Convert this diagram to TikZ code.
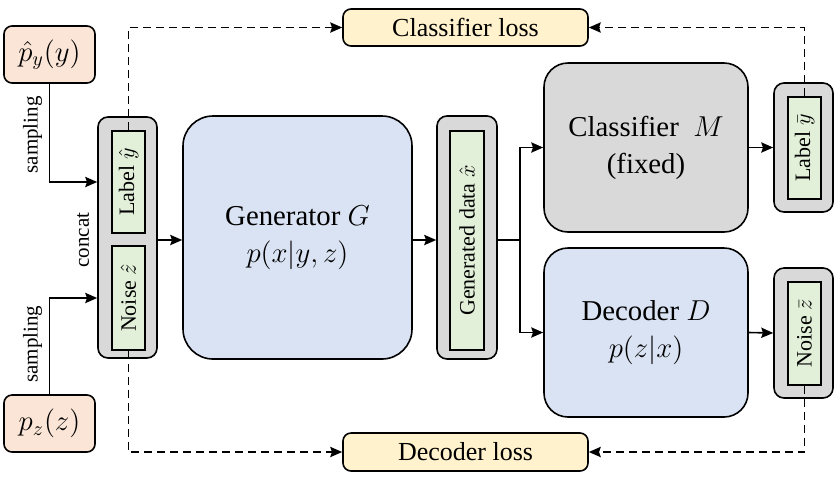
\documentclass[tikz,border=0pt]{standalone}
\usepackage{fontspec}
\setmainfont{Liberation Serif}
\usepackage{graphicx}
\usepackage{xcolor}
\usetikzlibrary{
    arrows.meta,
    positioning,
    calc
}
\definecolor{prior}{HTML}{FBE5D6}
\definecolor{model}{HTML}{DAE3F3}
\definecolor{frozen}{HTML}{D9D9D9}
\definecolor{vector}{HTML}{E2F0D9}
\definecolor{loss}{HTML}{FFF2CC}
\tikzset{
    % Distribution box style
    prior box/.style={
        rectangle,
        rounded corners=4pt,
        minimum width=45.5pt,
        minimum height=28.5pt,
        align=center,
        font=\fontsize{14}{17}\selectfont,
        draw=black,
        fill=prior,
        line width=0.8pt
    },
    % Network block style
    network/.style={
        rectangle,
        rounded corners=12pt,
        minimum width=102pt,
        minimum height=84.5pt,
        align=center,
        font=\fontsize{14.4}{18.5}\selectfont,
        draw=black,
        fill=#1,
        line width=0.8pt
    },
    % Gray holder of vectors
    holder/.style={
        rectangle,
        rounded corners=5pt,
        minimum width=29.5pt,
        inner sep=0pt,
        draw=black,
        fill=frozen,
        line width=0.8pt
    },
    % Vector style
    vec/.style={
        rectangle,
        minimum width=16.5pt,
        inner sep=0pt,
        font=\fontsize{11}{13}\selectfont,
        draw=black,
        fill=vector,
        line width=0.8pt
    },
    % Loss style
    loss box/.style={
        rectangle,
        rounded corners=4pt,
        minimum width=122.5pt,
        minimum height=18.5pt,
        inner sep=0pt,
        font=\fontsize{13}{15}\selectfont,
        draw=black,
        fill=loss,
        line width=0.8pt
    },
    % Arrow styles
    flow/.style={
        -{Stealth[length=2.1mm, width=1.8mm, inset=0.3mm]},
        line width=0.8pt,
        color=black
    },
    lossflow/.style={
        -{Stealth[length=2.1mm, width=1.8mm, inset=0.3mm]},
        line width=0.8pt,
        dash pattern=on 4pt off 2.5pt,
        color=black
    },
    % Label style
    label text/.style={
        font=\fontsize{10.5}{12}\selectfont,
        rotate=90
    }
}

\begin{document}
\begin{tikzpicture}[x=0.5pt, y=-0.5pt]
        \useasboundingbox (0,0) rectangle (838,488);
        % Priors
        \node[prior box] (py) at (49.5,54.5) {$\hat{p}_y(y)$};
        \node[prior box] (pz) at (49.5,423.5) {$p_z(z)$};

        % Concatenated input
        \node[holder, minimum height=120.5pt] (cin) at (127.5,237.5) {};
        \node[vec, minimum height=51pt] (laby) at (128.5,182) {\rotatebox{90}{Label $\hat{y}$}};
        \node[vec, minimum height=52pt] (noisez) at (128.5,298) {\rotatebox{90}{Noise $\hat{z}$}};

        % Generator and its output
        \node[network=model, minimum width=114.5pt, minimum height=121.5pt, rounded corners=15pt] (gen) at (297.5,237.5) {Generator $G$\\$p(x|y,z)$};
        \node[holder, minimum width=30pt, minimum height=121.5pt] (gout) at (467,237.5) {};
        \node[vec, minimum width=17pt, minimum height=109.5pt] (xhat) at (467,240.5) {\rotatebox{90}{Generated\ data\ $\hat{x}$}};

        % Classifier and decoder
        \node[network=frozen] (cls) at (646,147.5) {Classifier\ \ $M$\\(fixed)};
        \node[network=model] (dec) at (646,332.5) {Decoder $D$\\$p(z|x)$};

        % Outputs
        \node[holder, minimum height=64.5pt] (yout) at (803.5,147.5) {};
        \node[vec, minimum height=51pt] (ybar) at (804.5,148) {\rotatebox{90}{Label $\bar{y}$}};
        \node[holder, minimum height=65pt] (zout) at (803.5,333) {};
        \node[vec, minimum height=51.5pt] (zbar) at (804.5,333.5) {\rotatebox{90}{Noise $\bar{z}$}};

        % Losses
        \node[loss box] (closs) at (465.5,27.5) {Classifier loss};
        \node[loss box, minimum height=19pt] (dloss) at (465.5,452) {Decoder loss};

        % Sampling
        \draw[flow] (py.south) |- node[label text, pos=0.26, above] {sampling} (cin.west |- laby);
        \draw[flow] (pz.north) |- node[label text, pos=0.26, above] {sampling} (cin.west |- noisez);
        \node[label text] (concat) at (83,240) {concat};

        % Main flow
        \draw[flow] (cin.east |- 0,240) -- (gen.west |- 0,240);
        \draw[flow] (gen.east |- 0,240) -- (gout.west |- 0,240);
        \coordinate (split) at (520,240);
        \draw[line width=0.8pt] (gout.east |- split) -- (split);
        \draw[flow] (split) |- (cls.west);
        \draw[flow] (split) |- (dec.west);
        \draw[flow] (cls.east) -- (yout.west);
        \draw[flow] (dec.east) -- (zout.west);

        % Loss connections
        \draw[lossflow] (laby.north) |- (closs.west);
        \draw[lossflow] (ybar.north) |- (closs.east);
        \draw[lossflow] (noisez.south) |- (dloss.west);
        \draw[lossflow] (zbar.south) |- (dloss.east);
    \end{tikzpicture}
\end{document}
